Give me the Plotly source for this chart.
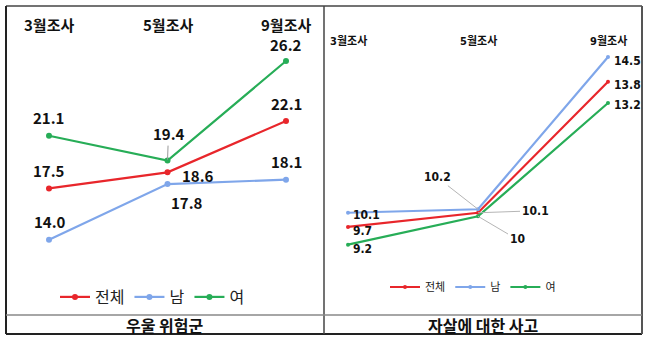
import plotly.graph_objects as go

# Survey rounds and series
months = ["3월조사", "5월조사", "9월조사"]
series_names = ["전체", "남", "여"]

# Panel 1: 우울 위험군 (%)
dep_total = [17.5, 18.6, 22.1]
dep_male = [14.0, 17.8, 18.1]
dep_female = [21.1, 19.4, 26.2]

# Panel 2: 자살에 대한 사고 (%)
sui_total = [9.7, 10.1, 13.8]
sui_male = [10.1, 10.2, 14.5]
sui_female = [9.2, 10.0, 13.2]

captions = ["우울 위험군", "자살에 대한 사고"]

W, H = 650, 343
COLORS = {"전체": "#e8262b", "남": "#7fa6ea", "여": "#27ad57"}
KR = "Noto Sans CJK KR"
NARROW = "Liberation Sans Narrow, DejaVu Sans Condensed, Noto Sans CJK KR"


def px_x(px):
    return px / W


def px_y(py):
    return 1 - py / H


x_idx = [0, 1, 2]

fig = go.Figure()

panels = [
    dict(data=[dep_total, dep_male, dep_female], xa="x", ya="y", legend="legend",
         width=2.2, msize=6),
    dict(data=[sui_total, sui_male, sui_female], xa="x2", ya="y2", legend="legend2",
         width=2.2, msize=4),
]

for p in panels:
    for name, vals in zip(series_names, p["data"]):
        fig.add_trace(go.Scatter(
            x=x_idx, y=vals, name=name, mode="lines+markers",
            xaxis=p["xa"], yaxis=p["ya"], legend=p["legend"],
            line=dict(color=COLORS[name], width=p["width"]),
            marker=dict(color=COLORS[name], size=p["msize"]),
            hoverinfo="skip",
        ))

annotations = []
CM = dict(xanchor="center", yanchor="middle")

# Month headers
for i, m in enumerate(months):
    annotations.append(dict(x=i, xref="x", y=px_y(24), yref="paper", text=f"<b>{m}</b>",
                            showarrow=False, font=dict(family=KR, size=15, color="#111"), **CM))
    annotations.append(dict(x=i, xref="x2", y=px_y(41), yref="paper", text=f"<b>{m}</b>",
                            showarrow=False, font=dict(family=NARROW, size=11, color="#111"), **CM))

# Value labels, panel 1 (offsets in px: dx, dy with +dy meaning upward)
dep_offsets = {
    "전체": [(0, 18), (30, -3), (0, 18)],
    "남": [(1, 18), (19, -18), (0, 18)],
    "여": [(-1, 18), None, (0, 17)],
}
for name, vals in zip(series_names, [dep_total, dep_male, dep_female]):
    for i, v in enumerate(vals):
        off = dep_offsets[name][i]
        txt = f"<b>{v:.1f}</b>"
        font = dict(family=KR, size=15, color="#111")
        if off is None:
            annotations.append(dict(x=i, y=v, xref="x", yref="y", text=txt, showarrow=True,
                                    arrowhead=0, arrowwidth=1, arrowcolor="#999",
                                    ax=1, ay=-27, standoff=1, font=font))
        else:
            annotations.append(dict(x=i, y=v, xref="x", yref="y", text=txt, showarrow=False,
                                    xshift=off[0], yshift=off[1], font=font, **CM))

# Value labels, panel 2
sui_side = {
    "전체": [(3, -4), None, (4, -3)],
    "남": [(3, -2), None, (4, -4)],
    "여": [(3, -4), None, (4, -2)],
}
sui_leaders = {"전체": (57, -2), "남": (-41, -32), "여": (39, 23)}
for name, vals in zip(series_names, [sui_total, sui_male, sui_female]):
    for i, v in enumerate(vals):
        txt = f"<b>{v:g}</b>"
        font = dict(family=NARROW, size=12, color="#111")
        off = sui_side[name][i]
        if off is None:
            ax, ay = sui_leaders[name]
            annotations.append(dict(x=i, y=v, xref="x2", yref="y2", text=txt, showarrow=True,
                                    arrowhead=0, arrowwidth=1, arrowcolor="#b5b5b5",
                                    ax=ax, ay=ay, standoff=0, font=font))
        else:
            annotations.append(dict(x=i, y=v, xref="x2", yref="y2", text=txt, showarrow=False,
                                    xanchor="left", yanchor="middle",
                                    xshift=off[0], yshift=off[1], font=font))

# Captions under each panel
annotations.append(dict(x=px_x(165), y=px_y(325), xref="paper", yref="paper",
                        text=f"<b>{captions[0]}</b>", showarrow=False,
                        font=dict(family=KR, size=16, color="#111"), **CM))
annotations.append(dict(x=px_x(483), y=px_y(325), xref="paper", yref="paper",
                        text=f"<b>{captions[1]}</b>", showarrow=False,
                        font=dict(family=KR, size=16, color="#111"), **CM))

# Table frame around the two panels
frame = []
def seg(x0, y0, x1, y1, color, width):
    frame.append(dict(type="line", xref="paper", yref="paper",
                      x0=px_x(x0), y0=px_y(y0), x1=px_x(x1), y1=px_y(y1),
                      line=dict(color=color, width=width)))

seg(6, 6, 642, 6, "#444", 1.5)
seg(6, 334, 642, 334, "#222", 2)
seg(6, 6, 6, 334, "#222", 2)
seg(642, 6, 642, 334, "#555", 2)
seg(324, 6, 324, 334, "#444", 1.5)
seg(6, 315, 642, 315, "#888", 1.5)

hidden = dict(visible=False, showgrid=False, zeroline=False, fixedrange=True)

fig.update_layout(
    width=W, height=H,
    margin=dict(l=0, r=0, t=0, b=0),
    paper_bgcolor="white", plot_bgcolor="white",
    showlegend=True,
    xaxis=dict(domain=[px_x(6), px_x(324)], range=[-0.3629, 2.3207], **hidden),
    yaxis=dict(domain=[px_y(315), px_y(6)], range=[8.862, 29.954], **hidden),
    xaxis2=dict(domain=[px_x(324), px_x(642)], range=[-0.1846, 2.2615], anchor="y2", **hidden),
    yaxis2=dict(domain=[px_y(315), px_y(6)], range=[7.212, 15.941], anchor="x2", **hidden),
    legend=dict(orientation="h", x=px_x(55), xanchor="left", y=px_y(297), yanchor="middle",
                font=dict(family=KR, size=16, color="#222"), bgcolor="rgba(0,0,0,0)",
                itemwidth=30, tracegroupgap=0),
    legend2=dict(orientation="h", x=px_x(385), xanchor="left", y=px_y(287), yanchor="middle",
                 font=dict(family=NARROW, size=11, color="#222"), bgcolor="rgba(0,0,0,0)",
                 itemwidth=30, tracegroupgap=0),
    annotations=annotations,
    shapes=frame,
)

fig.write_html("out.html")
